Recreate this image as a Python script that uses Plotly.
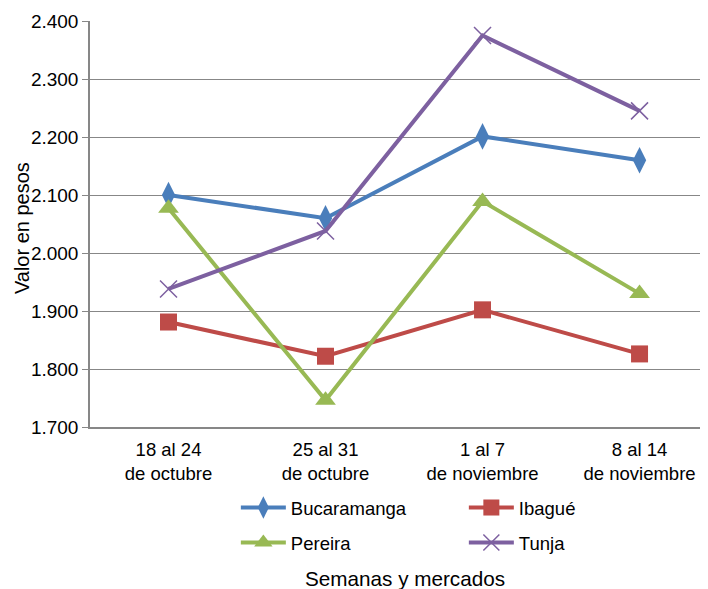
import plotly.graph_objects as go

categories = ["18 al 24<br>de octubre", "25 al 31<br>de octubre", "1 al 7<br>de noviembre", "8 al 14<br>de noviembre"]
bucaramanga = [2100, 2060, 2201, 2160]
ibague = [1881, 1822, 1902, 1826]
pereira = [2077, 1746, 2089, 1930]
tunja = [1938, 2038, 2375, 2245]

FONT = "Liberation Sans, Arial, sans-serif"

series = [
    ("Bucaramanga", bucaramanga, "#4A7EBB", dict(symbol="diamond-tall", size=19), "legend"),
    ("Ibagué", ibague, "#BE4B48", dict(symbol="square", size=17), "legend"),
    ("Pereira", pereira, "#98B954", dict(symbol="triangle-up", size=18), "legend2"),
    ("Tunja", tunja, "#7D60A0", dict(symbol="x-thin", size=17, line=dict(width=1.5, color="#7D60A0")), "legend2"),
]

fig = go.Figure()
for name, vals, color, marker, lg in series:
    m = dict(color=color, **marker)
    fig.add_trace(go.Scatter(
        x=list(range(len(categories))), y=vals, name=name, mode="lines+markers",
        line=dict(color=color, width=4), marker=m, legend=lg,
    ))

leg_common = dict(orientation="h", x=0.236, xanchor="left", yanchor="middle",
                  entrywidth=168, itemwidth=45, font=dict(size=18.5),
                  bgcolor="rgba(0,0,0,0)")

fig.update_layout(
    width=700, height=581,
    margin=dict(l=82, r=0, t=13, b=162),
    plot_bgcolor="white", paper_bgcolor="white",
    separators=",.",
    font=dict(family=FONT, size=18, color="#000000"),
    showlegend=True,
    legend=dict(y=-0.1995, **leg_common),
    legend2=dict(y=-0.2857, **leg_common),
    xaxis=dict(
        range=[-0.5, 3.436], tickmode="array", tickvals=list(range(len(categories))),
        ticktext=categories, showgrid=False, zeroline=False, showline=True,
        linecolor="#878787", linewidth=1.5, ticks="", tickfont=dict(size=18.5),
        ticklabelstandoff=5,
    ),
    yaxis=dict(
        range=[1700, 2400], dtick=100, tickformat=",d", showgrid=True,
        gridcolor="#878787", gridwidth=1.2, zeroline=False, showline=True,
        linecolor="#878787", linewidth=1.5, ticks="outside", ticklen=6,
        tickcolor="#878787", tickfont=dict(size=19),
    ),
    annotations=[
        dict(text="Valor en pesos", xref="paper", yref="paper", x=-0.131, y=0.49,
             textangle=-90, showarrow=False, font=dict(size=20), xanchor="left", yanchor="middle"),
        dict(text="Semanas y mercados", xref="paper", yref="paper", x=0.51, y=-0.372,
             showarrow=False, font=dict(size=20.7), xanchor="center", yanchor="middle"),
    ],
)

fig.write_html("out.html")
